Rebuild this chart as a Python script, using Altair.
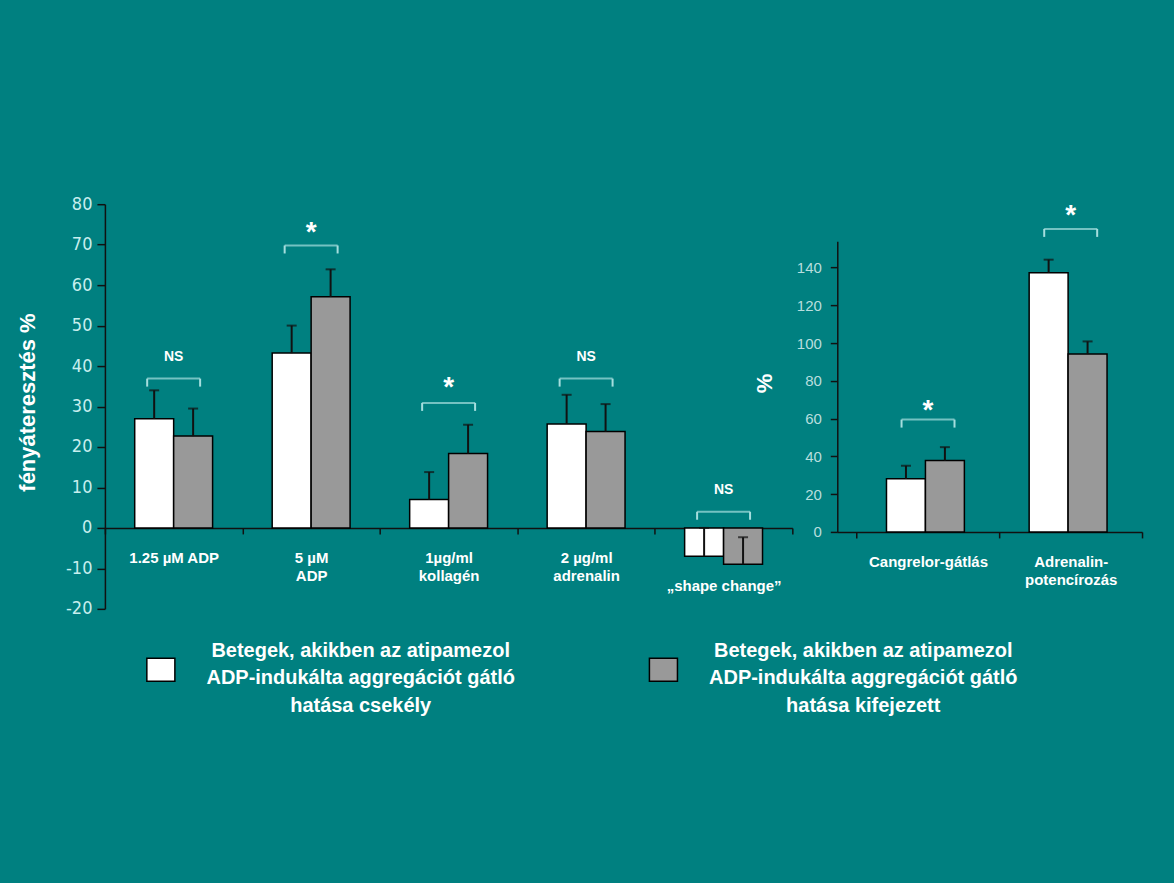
import altair as alt
import pandas as pd

# ---- data ----
groups = [
    "Betegek, akikben az atipamezol\nADP-indukálta aggregációt gátló\nhatása csekély",
    "Betegek, akikben az atipamezol\nADP-indukálta aggregációt gátló\nhatása kifejezett",
]
group_colors = ["#ffffff", "#999999"]

left_categories = ["1.25 µM ADP", "5 µM\nADP", "1µg/ml\nkollagén", "2 µg/ml\nadrenalin", "„shape change”"]
left_white = [27.0, 43.2, 7.0, 25.7, -7.0]
left_white_err = [7.0, 6.8, 6.8, 7.2, 7.0]
left_gray = [22.7, 57.1, 18.4, 23.8, -9.0]
left_gray_err = [6.8, 6.8, 7.1, 6.8, 6.7]
left_sig = ["NS", "*", "*", "NS", "NS"]
left_bracket_level = [36.9, 69.8, 30.9, 36.9, 4.0]
left_sig_level = [42.3, 74.0, 35.7, 42.3, 9.4]
left_ticks = [-20, -10, 0, 10, 20, 30, 40, 50, 60, 70, 80]

right_categories = ["Cangrelor-gátlás", "Adrenalin-\npotencírozás"]
right_white = [28.1, 137.3]
right_white_err = [6.9, 6.9]
right_gray = [37.8, 94.2]
right_gray_err = [7.1, 6.7]
right_sig = ["*", "*"]
right_bracket_level = [59.5, 160.5]
right_sig_level = [66.8, 169.8]
right_ticks = [0, 20, 40, 60, 80, 100, 120, 140]

BG = "#008080"
BRACKET = "#a6dede"
DARK = "#111111"
NARROW = "Liberation Sans Narrow, Arial Narrow, DejaVu Sans Condensed, Liberation Sans, sans-serif"
SANS = "Liberation Sans, Arial, sans-serif"

fill_scale = alt.Scale(domain=groups, range=group_colors)


def bar_frame(cats, white, werr, gray, gerr):
    rows = []
    for i, c in enumerate(cats):
        rows.append({"category": c, "group": groups[0], "value": white[i], "hi": white[i] + werr[i]})
        rows.append({"category": c, "group": groups[1], "value": gray[i], "hi": gray[i] + gerr[i]})
    return pd.DataFrame(rows)


def sig_frame(cats, sig, blevel, slevel):
    return pd.DataFrame({"category": cats, "sig": sig, "bracket": blevel, "level": slevel})


def panel(cats, white, werr, gray, gerr, sig, blevel, slevel, xscale, xaxis, yscale, yaxis, width, height):
    bars_df = bar_frame(cats, white, werr, gray, gerr)
    sig_df = sig_frame(cats, sig, blevel, slevel)
    X = alt.X("category:N", sort=cats, scale=xscale, axis=xaxis)
    XO = alt.XOffset("group:N", sort=groups,
                     scale=alt.Scale(domain=groups, paddingOuter=0.765, paddingInner=0))

    def Y(field):
        return alt.Y(field, scale=yscale, axis=yaxis)

    bars = alt.Chart(bars_df).mark_bar(stroke="black", strokeWidth=1.5).encode(
        x=X, xOffset=XO, y=Y("value:Q"),
        fill=alt.Fill("group:N", scale=fill_scale, legend=None),
    )
    err = alt.Chart(bars_df).mark_rule(color=DARK, strokeWidth=2).encode(
        x=X, xOffset=XO, y=Y("value:Q"), y2="hi:Q"
    )
    caps = alt.Chart(bars_df).mark_tick(color=DARK, thickness=2, size=10).encode(
        x=X, xOffset=XO, y=Y("hi:Q")
    )
    br = alt.Chart(sig_df).mark_tick(color=BRACKET, thickness=2, size=53).encode(
        x=X, y=Y("bracket:Q")
    )
    hook_l = alt.Chart(sig_df).mark_rule(color=BRACKET, strokeWidth=2, xOffset=-26.5, y2Offset=8).encode(
        x=X, y=Y("bracket:Q"), y2="bracket:Q"
    )
    hook_r = alt.Chart(sig_df).mark_rule(color=BRACKET, strokeWidth=2, xOffset=26.5, y2Offset=8).encode(
        x=X, y=Y("bracket:Q"), y2="bracket:Q"
    )
    ns = alt.Chart(sig_df).transform_filter(alt.datum.sig == "NS").mark_text(
        font=SANS, fontSize=14, fontWeight="bold", color="white", baseline="middle"
    ).encode(x=X, y=Y("level:Q"), text="sig:N")
    star = alt.Chart(sig_df).transform_filter(alt.datum.sig == "*").mark_text(
        font=SANS, fontSize=28, fontWeight="bold", color="white", baseline="middle", dy=5
    ).encode(x=X, y=Y("level:Q"), text="sig:N")
    return alt.layer(bars, err, caps, br, hook_l, hook_r, ns, star).properties(width=width, height=height)


def xaxis(offset):
    return alt.Axis(
        title=None, labelExpr="split(datum.label, '\\n')", labelAngle=0,
        labelFont=SANS, labelFontSize=15, labelFontWeight="bold", labelColor="white",
        labelPadding={"condition": {"test": "datum.value == '„shape change”'", "value": 45}, "value": 17},
        labelLineHeight=18, labelLimit=0,
        tickBand="extent", tickSize=6, tickColor=DARK, tickWidth=1.5,
        domainColor=DARK, domainWidth=1.5, offset=offset, grid=False,
    )


H = 405
left = panel(
    left_categories, left_white, left_white_err, left_gray, left_gray_err,
    left_sig, left_bracket_level, left_sig_level,
    alt.Scale(paddingInner=0, paddingOuter=0),
    xaxis(-81),
    alt.Scale(domain=[-20, 80], nice=False, zero=False),
    alt.Axis(
        title="fényáteresztés %", values=left_ticks, grid=False, labelExpr="'' + datum.value",
        labelFont=NARROW, labelFontSize=18, labelColor="#c8eeee", labelPadding=5,
        tickSize=8, tickColor=DARK, tickWidth=1.5, domainColor=DARK, domainWidth=1.5,
        titleFont=SANS, titleFontSize=22, titleFontWeight="bold", titleColor="white",
        titleAngle=270, titleX=-77, titleY=198, titleAlign="center", titleBaseline="middle",
    ),
    688, H,
)

right = panel(
    right_categories, right_white, right_white_err, right_gray, right_gray_err,
    right_sig, right_bracket_level, right_sig_level,
    alt.Scale(paddingInner=0, paddingOuter=0.068, align=1),
    xaxis(-77),
    alt.Scale(domain=[0, 154], nice=False, range=[328, 37]),
    alt.Axis(
        title="%", values=right_ticks, grid=False,
        labelFont=SANS, labelFontSize=15, labelColor="#b8dede", labelPadding=9,
        tickSize=7, tickColor=DARK, tickWidth=1.5, domainColor=DARK, domainWidth=1.5,
        titleFont=SANS, titleFontSize=22, titleFontWeight="bold", titleColor="white",
        titleAngle=270, titleX=-73, titleY=179, titleAlign="center", titleBaseline="middle",
    ),
    305, H,
)

top = alt.hconcat(left, right, spacing=45, bounds="flush")

leg_df = pd.DataFrame({"group": groups})
legx = alt.X("group:N", sort=groups, scale=alt.Scale(type="point", padding=0.5318, align=0.4785), axis=None)
leg_text = alt.Chart(leg_df).mark_text(
    lineBreak="\n", lineHeight=27.7, font=SANS, fontSize=20, fontWeight="bold",
    color="white", align="center", baseline="middle",
).encode(x=legx, text="group:N")
leg_swatch = alt.Chart(leg_df).mark_point(
    shape="M-1.22,-1H1.22V1H-1.22Z", size=529, filled=True, opacity=1,
    stroke="black", strokeWidth=1.5, xOffset=-200, yOffset=19,
).encode(x=legx, fill=alt.Fill("group:N", scale=fill_scale, legend=None))
legend = alt.layer(leg_swatch, leg_text).properties(width=1038, height=40)

chart = alt.vconcat(top, legend, spacing=13).properties(
    padding={"left": 17, "top": 195, "right": 31, "bottom": 166},
    background=BG,
).configure_view(stroke=None)

chart.save("out.html", embed_options={"renderer": "svg", "actions": False})
